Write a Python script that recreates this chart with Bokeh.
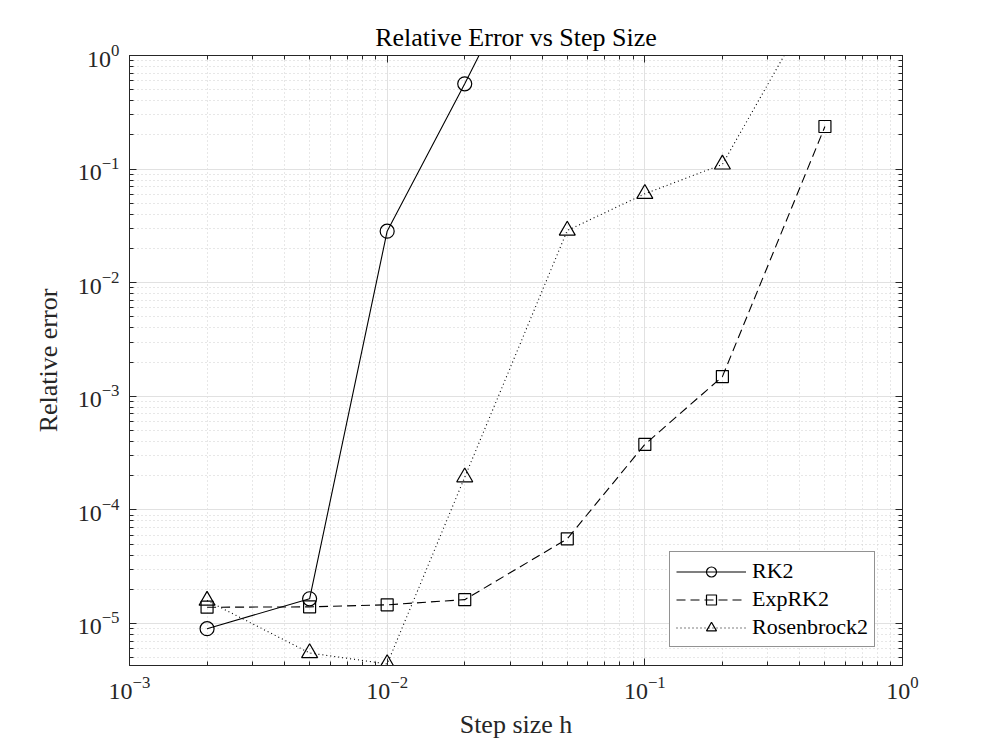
from bokeh.plotting import figure
from bokeh.models import Range1d, FixedTicker, LogAxis, Legend, LegendItem
from bokeh.embed import file_html
from bokeh.resources import INLINE

# ---- data ----
h_rk2 = [0.002, 0.005, 0.01, 0.02, 0.05]
err_rk2 = [9.0e-6, 1.65e-5, 2.84e-2, 0.563, 35.0]

h_exprk2 = [0.002, 0.005, 0.01, 0.02, 0.05, 0.1, 0.2, 0.5]
err_exprk2 = [1.39e-5, 1.40e-5, 1.46e-5, 1.62e-5, 5.56e-5, 3.77e-4, 1.49e-3, 0.237]

h_ros2 = [0.002, 0.005, 0.01, 0.02, 0.05, 0.1, 0.2, 0.5]
err_ros2 = [1.59e-5, 5.5e-6, 4.4e-6, 1.94e-4, 2.88e-2, 6.06e-2, 0.11, 4.3]

x_ticks = [1e-3, 1e-2, 1e-1, 1e0]
y_ticks = [1e-5, 1e-4, 1e-3, 1e-2, 1e-1, 1e0]

FONT = "Liberation Serif"
AX = "#262626"

def minors(lo_exp, hi_exp):
    return [m * 10.0 ** e for e in range(lo_exp, hi_exp) for m in range(2, 10)]

x_minor = minors(-3, 0)
y_minor = minors(-6, 0)

p = figure(width=980, height=742, x_axis_type="log", y_axis_type="log",
           x_range=Range1d(1e-3, 1.0), y_range=Range1d(10 ** -5.37, 1.0),
           title="Relative Error vs Step Size",
           output_backend="svg", toolbar_location=None,
           min_border_left=129, min_border_right=78,
           min_border_top=55, min_border_bottom=77)
p.background_fill_color = "white"
p.border_fill_color = "white"
p.outline_line_color = AX
p.outline_line_width = 1

p.title.align = "center"
p.title.text_font = FONT
p.title.text_font_size = "26px"
p.title.text_font_style = "normal"
p.title.text_color = "black"
p.title.standoff = 7

xt = FixedTicker(ticks=x_ticks, minor_ticks=x_minor)
yt = FixedTicker(ticks=y_ticks, minor_ticks=y_minor)

def style_axis(ax):
    ax.axis_line_color = AX
    ax.major_tick_line_color = AX
    ax.minor_tick_line_color = AX
    ax.major_tick_in = 7
    ax.major_tick_out = 0
    ax.minor_tick_in = 4
    ax.minor_tick_out = 0
    ax.major_label_text_font = FONT
    ax.major_label_text_font_size = "24px"
    ax.major_label_text_color = "#262626"
    ax.axis_label_text_font = FONT
    ax.axis_label_text_font_size = "26px"
    ax.axis_label_text_font_style = "normal"
    ax.axis_label_text_color = "#262626"

p.xaxis.ticker = xt
p.yaxis.ticker = yt
for ax in p.xaxis + p.yaxis:
    style_axis(ax)
p.xaxis.major_label_standoff = 11
p.yaxis.major_label_standoff = 10
p.xaxis.axis_label = "Step size h"
p.xaxis.axis_label_standoff = 8
p.yaxis.axis_label = "Relative error"
p.yaxis.axis_label_standoff = 12

# box-style ticks on top and right (no labels)
top_ax = LogAxis(ticker=FixedTicker(ticks=x_ticks, minor_ticks=x_minor))
style_axis(top_ax)
top_ax.major_label_text_alpha = 0
top_ax.major_label_text_font_size = "4px"
top_ax.major_label_standoff = 0
right_ax = LogAxis(ticker=FixedTicker(ticks=y_ticks, minor_ticks=y_minor))
style_axis(right_ax)
right_ax.major_label_text_alpha = 0
right_ax.major_label_text_font_size = "4px"
right_ax.major_label_standoff = 0
p.add_layout(top_ax, "above")
p.add_layout(right_ax, "right")

for g in (p.xgrid, p.ygrid):
    g.ticker = xt if g is p.xgrid else yt
    g.grid_line_color = "#e1e1e1"
    g.grid_line_width = 1
    g.minor_grid_line_color = "#cfcfcf"
    g.minor_grid_line_dash = "1 3"
    g.minor_grid_line_width = 1

# ---- series ----
l1 = p.line(h_rk2, err_rk2, line_color="black", line_width=1.1)
s1 = p.scatter(h_rk2, err_rk2, marker="circle", size=14, line_color="black",
               fill_alpha=0, line_width=1.2)
l2 = p.line(h_exprk2, err_exprk2, line_color="black", line_width=1.1, line_dash="9 5")
s2 = p.scatter(h_exprk2, err_exprk2, marker="square", size=12, line_color="black",
               fill_alpha=0, line_width=1.2)
l3 = p.line(h_ros2, err_ros2, line_color="black", line_width=1.1, line_dash="1 3")
s3 = p.scatter(h_ros2, err_ros2, marker="triangle", size=16, line_color="black",
               fill_alpha=0, line_width=1.2)

legend = Legend(items=[LegendItem(label="RK2", renderers=[l1, s1]),
                       LegendItem(label="ExpRK2", renderers=[l2, s2]),
                       LegendItem(label="Rosenbrock2", renderers=[l3, s3])],
                location=(540, 18))
legend.label_text_font = FONT
legend.label_text_font_size = "22px"
legend.label_text_color = "black"
legend.glyph_width = 70
legend.glyph_height = 25
legend.label_height = 25
legend.label_standoff = 6
legend.spacing = 2
legend.padding = 6
legend.margin = 0
legend.border_line_color = AX
legend.border_line_width = 1
legend.background_fill_color = "white"
legend.background_fill_alpha = 1
p.add_layout(legend, "center")

open("out.html", "w").write(file_html(p, INLINE))
